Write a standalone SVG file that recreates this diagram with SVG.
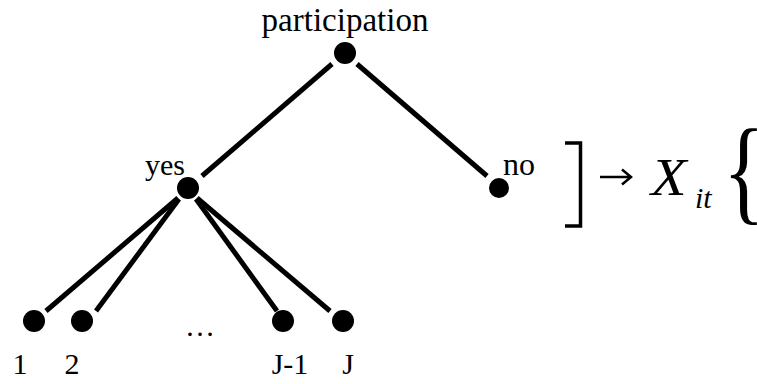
<svg xmlns="http://www.w3.org/2000/svg" width="757" height="384" viewBox="0 0 757 384">
<style>
text{font-family:'Liberation Serif','DejaVu Serif',serif;fill:#000}
.e{stroke:#000;stroke-width:5;fill:none}
.d{fill:#000}
</style>
<rect width="757" height="384" fill="#fff"/>
<g id="connectors">
<line class="e" x1="332" y1="64" x2="202" y2="176"/>
<line class="e" x1="357" y1="64" x2="487" y2="176"/>
<line class="e" x1="178" y1="198" x2="46" y2="311"/>
<line class="e" x1="179" y1="199" x2="96" y2="311"/>
<line class="e" x1="196" y1="199" x2="277" y2="311"/>
<line class="e" x1="197" y1="198" x2="330" y2="311"/>
</g>
<g id="n-participation"><circle class="d" cx="345" cy="53" r="11"/><text x="345" y="31" font-size="33" text-anchor="middle">participation</text></g>
<g id="n-yes"><circle class="d" cx="188" cy="188" r="11"/><text x="145" y="175" font-size="30">yes</text></g>
<g id="n-no"><circle class="d" cx="499" cy="188" r="10"/><text x="503" y="175" font-size="32">no</text></g>
<g id="n-1"><circle class="d" cx="34" cy="321" r="11"/><text x="20" y="374" font-size="30" text-anchor="middle">1</text></g>
<g id="n-2"><circle class="d" cx="82" cy="321" r="11"/><text x="72" y="374" font-size="30" text-anchor="middle">2</text></g>
<g id="n-J-1"><circle class="d" cx="283" cy="321" r="11"/><text x="290" y="374" font-size="30" text-anchor="middle">J-1</text></g>
<g id="n-J"><circle class="d" cx="343" cy="321" r="11"/><text x="348" y="374" font-size="30" text-anchor="middle">J</text></g>
<text x="200" y="336" font-size="30" text-anchor="middle">…</text>
<g id="bracket-arrow">
<path d="M565 143 H580.5 V226 H565" stroke="#000" stroke-width="3.5" fill="none"/>
<path d="M600 177 H630 M622 169.5 L631 177 L622 184.5" stroke="#000" stroke-width="2.5" fill="none"/>
</g>
<text x="651" y="195" font-size="52" font-style="italic" transform="translate(651 195) scale(1.12 1) translate(-651 -195)">X</text>
<text x="695" y="208" font-size="30" font-style="italic">it</text>
<text x="723" y="209" font-size="116" transform="translate(723 209) scale(0.75 1) translate(-723 -209)">{</text>
</svg>
